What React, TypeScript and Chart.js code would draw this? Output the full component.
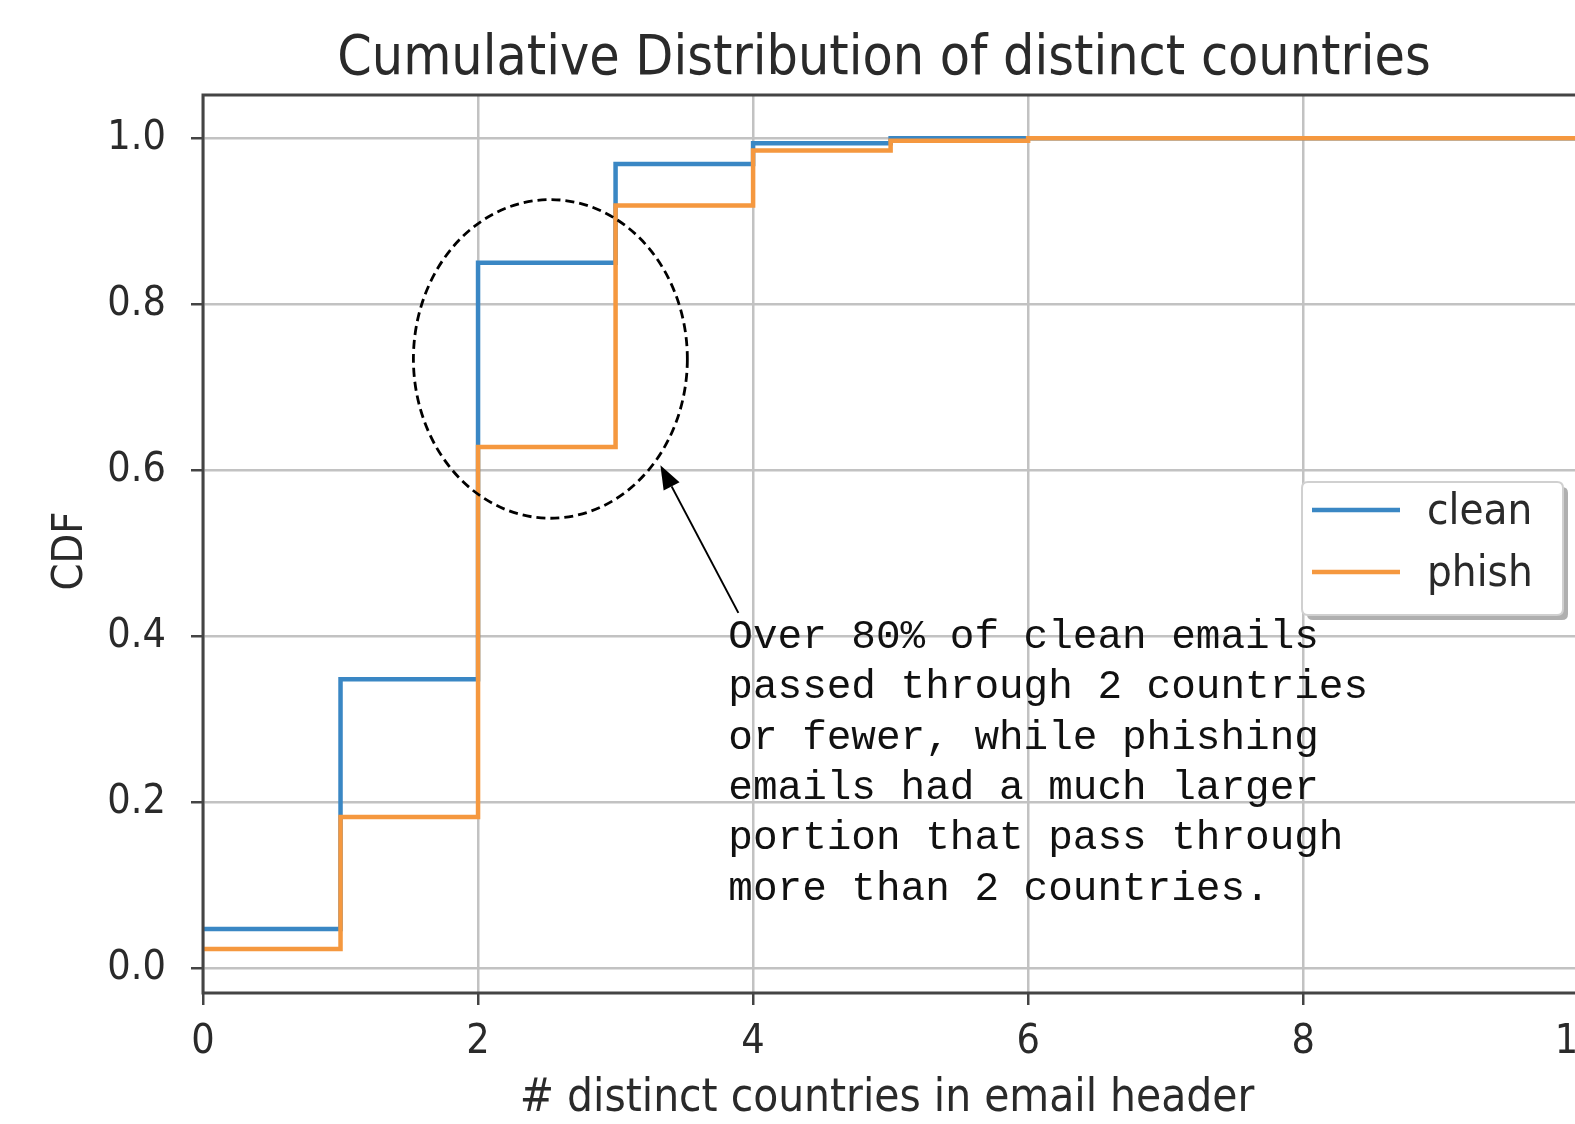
import React, { useEffect, useRef } from "react";
import { Chart, registerables } from "chart.js";

Chart.register(...registerables);

// ---------- data ----------
const X_COUNTRIES = [0, 1, 2, 3, 4, 5, 6, 7, 8, 9, 10, 11];
const CLEAN_CDF = [0.047, 0.348, 0.85, 0.969, 0.994, 1.0, 1.0, 1.0, 1.0, 1.0, 1.0, 1.0];
const PHISH_CDF = [0.023, 0.182, 0.628, 0.919, 0.985, 0.997, 1.0, 1.0, 1.0, 1.0, 1.0, 1.0];
const SERIES_LABELS = ["clean", "phish"];
const X_TICKS = [0, 2, 4, 6, 8, 10];
const Y_TICKS = [0, 0.2, 0.4, 0.6, 0.8, 1.0];
const TITLE = "Cumulative Distribution of distinct countries";
const X_LABEL = "# distinct countries in email header";
const Y_LABEL = "CDF";
const NOTE_LINES = [
  "Over 80% of clean emails",
  "passed through 2 countries",
  "or fewer, while phishing",
  "emails had a much larger",
  "portion that pass through",
  "more than 2 countries.",
];
// annotation geometry in data coordinates
const CIRCLE_CENTER = { x: 2.526, y: 0.734 };
const CIRCLE_RADII = { x: 0.996, y: 0.192 };
const ARROW_TIP = { x: 3.326, y: 0.606 };
const ARROW_TAIL = { x: 3.893, y: 0.428 };
const NOTE_ANCHOR = { x: 3.82, y: 0.386 };

// ---------- styles ----------
const SANS = '"DejaVu Sans Condensed", "DejaVu Sans", sans-serif';
const MONO = '"Liberation Mono", "Courier New", monospace';
const BLUE = "#3a87c4";
const ORANGE = "#f5983f";
const SPINE = "#444444";
const GRID = "#c2c2c2";
const TEXT = "#2a2a2a";

const decorPlugin = {
  id: "decor",
  afterDatasetsDraw(chart: any) {
    const { ctx, chartArea: ca, scales } = chart;
    const xs = scales.x;
    const ys = scales.y;
    ctx.save();
    // spines
    ctx.strokeStyle = SPINE;
    ctx.lineWidth = 3;
    ctx.setLineDash([]);
    ctx.beginPath();
    ctx.moveTo(ca.left, ca.bottom);
    ctx.lineTo(ca.left, ca.top);
    ctx.lineTo(ca.right, ca.top);
    ctx.lineTo(ca.right, ca.bottom);
    ctx.lineTo(ca.left, ca.bottom);
    ctx.closePath();
    ctx.stroke();

    // dashed ellipse
    const cx = xs.getPixelForValue(CIRCLE_CENTER.x);
    const cy = ys.getPixelForValue(CIRCLE_CENTER.y);
    const rx = Math.abs(xs.getPixelForValue(CIRCLE_CENTER.x + CIRCLE_RADII.x) - cx);
    const ry = Math.abs(ys.getPixelForValue(CIRCLE_CENTER.y + CIRCLE_RADII.y) - cy);
    ctx.beginPath();
    ctx.ellipse(cx, cy, rx, ry, 0, 0, Math.PI * 2);
    ctx.setLineDash([9, 5]);
    ctx.lineWidth = 2.8;
    ctx.strokeStyle = "#000";
    ctx.stroke();
    ctx.setLineDash([]);

    // arrow
    const tx = xs.getPixelForValue(ARROW_TIP.x);
    const ty = ys.getPixelForValue(ARROW_TIP.y);
    const sx = xs.getPixelForValue(ARROW_TAIL.x);
    const sy = ys.getPixelForValue(ARROW_TAIL.y);
    const ang = Math.atan2(ty - sy, tx - sx);
    const headLen = 24;
    const headHalf = 9;
    const bx = tx - headLen * Math.cos(ang);
    const by = ty - headLen * Math.sin(ang);
    ctx.beginPath();
    ctx.moveTo(sx, sy);
    ctx.lineTo(bx, by);
    ctx.lineWidth = 2;
    ctx.strokeStyle = "#000";
    ctx.stroke();
    ctx.beginPath();
    ctx.moveTo(tx, ty);
    ctx.lineTo(bx + headHalf * Math.sin(ang), by - headHalf * Math.cos(ang));
    ctx.lineTo(bx - headHalf * Math.sin(ang), by + headHalf * Math.cos(ang));
    ctx.closePath();
    ctx.fillStyle = "#000";
    ctx.fill();

    // note text
    ctx.font = `41px ${MONO}`;
    ctx.fillStyle = "#111";
    ctx.textAlign = "left";
    ctx.textBaseline = "alphabetic";
    const nx = xs.getPixelForValue(NOTE_ANCHOR.x);
    const ny = ys.getPixelForValue(NOTE_ANCHOR.y);
    NOTE_LINES.forEach((line, i) => {
      ctx.fillText(line, nx, ny + i * 50.4);
    });
    ctx.restore();
  },
  afterDraw(chart: any) {
    const { ctx } = chart;
    ctx.save();
    // title
    ctx.fillStyle = TEXT;
    ctx.font = `55px ${SANS}`;
    ctx.textAlign = "center";
    ctx.textBaseline = "alphabetic";
    ctx.fillText(TITLE, 884, 74);
    // x label
    ctx.font = `45.5px ${SANS}`;
    ctx.fillText(X_LABEL, 887, 1111);
    // y label
    ctx.save();
    ctx.translate(82, 551);
    ctx.rotate(-Math.PI / 2);
    ctx.font = `43px ${SANS}`;
    ctx.fillText(Y_LABEL, 0, 0);
    ctx.restore();

    // legend
    const lx = 1302;
    const ly = 482;
    const lw = 261;
    const lh = 133;
    const r = 6;
    const rr = (x: number, y: number, w: number, h: number) => {
      ctx.beginPath();
      ctx.moveTo(x + r, y);
      ctx.lineTo(x + w - r, y);
      ctx.quadraticCurveTo(x + w, y, x + w, y + r);
      ctx.lineTo(x + w, y + h - r);
      ctx.quadraticCurveTo(x + w, y + h, x + w - r, y + h);
      ctx.lineTo(x + r, y + h);
      ctx.quadraticCurveTo(x, y + h, x, y + h - r);
      ctx.lineTo(x, y + r);
      ctx.quadraticCurveTo(x, y, x + r, y);
      ctx.closePath();
    };
    rr(lx + 5, ly + 5, lw, lh);
    ctx.fillStyle = "rgba(110,110,110,0.55)";
    ctx.fill();
    rr(lx, ly, lw, lh);
    ctx.fillStyle = "rgba(255,255,255,1)";
    ctx.fill();
    ctx.strokeStyle = "#d0d0d0";
    ctx.lineWidth = 2;
    ctx.stroke();
    const ds = chart.data.datasets;
    const rows = [0, 1];
    rows.forEach((i) => {
      const yy = ly + 28 + i * 62;
      ctx.beginPath();
      ctx.moveTo(lx + 10, yy);
      ctx.lineTo(lx + 98, yy);
      ctx.strokeStyle = ds[i].borderColor;
      ctx.lineWidth = 4.5;
      ctx.stroke();
      ctx.fillStyle = TEXT;
      ctx.font = `43.5px ${SANS}`;
      ctx.textAlign = "left";
      ctx.textBaseline = "alphabetic";
      ctx.fillText(ds[i].label, lx + 125, yy + 14);
    });
    ctx.restore();
  },
};

export default function App() {
  const ref = useRef<HTMLCanvasElement>(null);
  useEffect(() => {
    const canvas = ref.current;
    if (!canvas) return;
    const toPoints = (vals: number[]) => X_COUNTRIES.map((x, i) => ({ x, y: vals[i] }));
    const chart = new Chart(canvas, {
      type: "line",
      data: {
        datasets: [
          {
            label: SERIES_LABELS[0],
            data: toPoints(CLEAN_CDF),
            borderColor: BLUE,
            backgroundColor: BLUE,
            borderWidth: 4.5,
            pointRadius: 0,
            stepped: "before",
            fill: false,
            order: 1,
          },
          {
            label: SERIES_LABELS[1],
            data: toPoints(PHISH_CDF),
            borderColor: ORANGE,
            backgroundColor: ORANGE,
            borderWidth: 4.5,
            pointRadius: 0,
            stepped: "before",
            fill: false,
            order: 0,
          },
        ],
      },
      options: {
        animation: false,
        responsive: false,
        devicePixelRatio: 1,
        layout: { padding: { top: 95, left: 0, right: 0, bottom: 0 } },
        plugins: {
          legend: { display: false },
          title: { display: false },
          tooltip: { enabled: false },
        },
        scales: {
          x: {
            type: "linear",
            min: 0,
            max: 10.5,
            afterBuildTicks: (scale: any) => {
              scale.ticks = X_TICKS.map((v) => ({ value: v }));
            },
            afterFit: (scale: any) => {
              scale.height = 131;
            },
            grid: {
              color: GRID,
              lineWidth: 2.5,
              drawTicks: true,
              tickLength: 12,
              tickColor: SPINE,
              tickWidth: 2.5,
            },
            border: { display: false },
            ticks: {
              color: TEXT,
              font: { family: SANS, size: 41 },
              padding: 13,
              maxRotation: 0,
              autoSkip: false,
              callback: (v: any) => String(v),
            },
          },
          y: {
            type: "linear",
            min: -0.03,
            max: 1.052,
            afterBuildTicks: (scale: any) => {
              scale.ticks = Y_TICKS.map((v) => ({ value: v }));
            },
            afterFit: (scale: any) => {
              scale.width = 203;
            },
            grid: {
              color: GRID,
              lineWidth: 2.5,
              drawTicks: true,
              tickLength: 12,
              tickColor: SPINE,
              tickWidth: 2.5,
            },
            border: { display: false },
            ticks: {
              color: TEXT,
              font: { family: SANS, size: 41 },
              padding: 25,
              autoSkip: false,
              callback: (v: any) => Number(v).toFixed(1),
            },
          },
        },
      },
      plugins: [decorPlugin],
    } as any);
    return () => chart.destroy();
  }, []);
  return (
    <div
      style={{
        position: "fixed",
        left: 0,
        top: 0,
        width: 1575,
        height: 1124,
        overflow: "hidden",
        background: "#fff",
      }}
    >
      <canvas ref={ref} width={1647} height={1124} style={{ display: "block", width: 1647, height: 1124 }} />
    </div>
  );
}
